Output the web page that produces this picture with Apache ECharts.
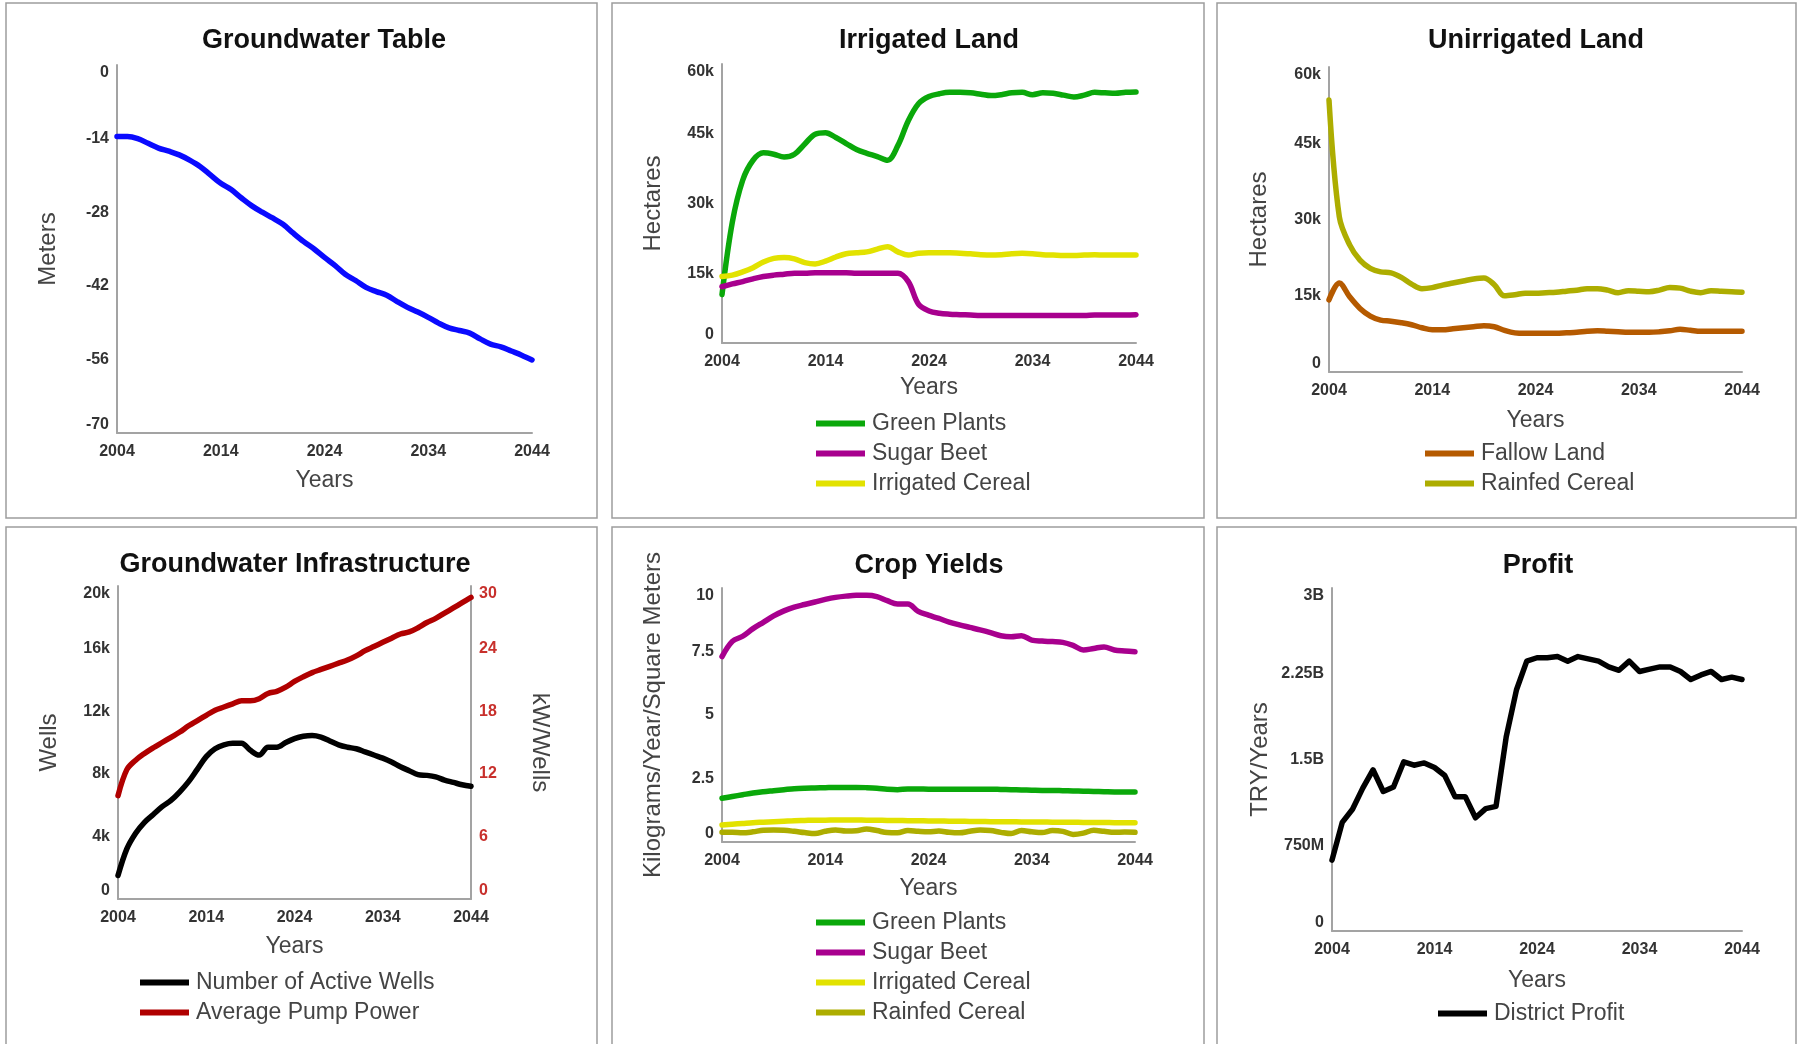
<!DOCTYPE html>
<html>
<head>
<meta charset="utf-8">
<title>Groundwater model results</title>
<script src="https://cdn.jsdelivr.net/npm/echarts@6/dist/echarts.min.js"></script>
<style>
  html, body { margin: 0; padding: 0; background: #fff; }
  #main { width: 1797px; height: 1044px; }
</style>
</head>
<body>
<div id="main"></div>
<script>
// simulation years (x categories)
const years = [2004, 2005, 2006, 2007, 2008, 2009, 2010, 2011, 2012, 2013,
  2014, 2015, 2016, 2017, 2018, 2019, 2020, 2021, 2022, 2023,
  2024, 2025, 2026, 2027, 2028, 2029, 2030, 2031, 2032, 2033,
  2034, 2035, 2036, 2037, 2038, 2039, 2040, 2041, 2042, 2043, 2044];

// Groundwater Table (meters)
const waterTable = [-13.6, -13.6, -14.0, -14.9, -15.8, -16.4, -17.1, -18.1, -19.3, -20.9,
  -22.5, -23.7, -25.3, -26.8, -28.0, -29.1, -30.3, -32.0, -33.6, -35.0,
  -36.6, -38.1, -39.8, -41.0, -42.3, -43.1, -43.8, -45.0, -46.1, -47.0,
  -48.0, -49.1, -50.0, -50.5, -51.0, -52.1, -53.1, -53.6, -54.4, -55.2, -56.1];

// Irrigated Land (thousand hectares)
const irrGreenPlants = [10.4, 26.0, 35.0, 39.3, 40.9, 40.6, 40.0, 40.6, 42.8, 44.9,
  45.2, 44.2, 42.9, 41.6, 40.8, 40.1, 39.3, 42.5, 47.8, 51.5,
  53.0, 53.6, 53.9, 53.9, 53.8, 53.5, 53.2, 53.4, 53.8, 53.9,
  53.4, 53.8, 53.7, 53.3, 52.9, 53.3, 53.9, 53.8, 53.7, 53.9, 54.0];
const irrSugarBeet = [12.1, 12.7, 13.2, 13.8, 14.3, 14.6, 14.8, 15.0, 15.0, 15.1,
  15.1, 15.1, 15.1, 15.0, 15.0, 15.0, 15.0, 15.0, 13.2, 8.3,
  6.9, 6.4, 6.2, 6.1, 6.0, 5.9, 5.9, 5.9, 5.9, 5.9,
  5.9, 5.9, 5.9, 5.9, 5.9, 5.9, 6.0, 6.0, 6.0, 6.0, 6.1];
const irrCereal = [14.3, 14.6, 15.3, 16.2, 17.4, 18.2, 18.4, 18.1, 17.3, 17.0,
  17.6, 18.5, 19.2, 19.4, 19.6, 20.2, 20.7, 19.6, 18.9, 19.3,
  19.4, 19.4, 19.4, 19.3, 19.2, 19.0, 18.9, 19.0, 19.2, 19.3,
  19.2, 19.0, 18.9, 18.8, 18.8, 18.9, 19.0, 18.9, 18.9, 18.9, 18.9];

// Unirrigated Land (thousand hectares)
const fallowLand = [14.2, 17.5, 14.8, 12.5, 11.0, 10.2, 10.0, 9.7, 9.3, 8.7,
  8.3, 8.3, 8.5, 8.7, 8.9, 9.1, 8.9, 8.2, 7.7, 7.6,
  7.6, 7.6, 7.6, 7.7, 7.8, 8.0, 8.1, 8.0, 7.9, 7.8,
  7.8, 7.8, 7.9, 8.1, 8.4, 8.2, 8.0, 8.0, 8.0, 8.0, 8.0];
const rainfedLand = [53.5, 30.5, 25.0, 22.0, 20.4, 19.7, 19.5, 18.6, 17.3, 16.4,
  16.6, 17.1, 17.5, 17.9, 18.3, 18.5, 17.2, 15.0, 15.2, 15.5,
  15.5, 15.6, 15.7, 15.9, 16.1, 16.4, 16.4, 16.1, 15.6, 16.0,
  15.9, 15.8, 16.1, 16.6, 16.5, 15.9, 15.6, 16.0, 15.9, 15.8, 15.7];

// Groundwater Infrastructure
const activeWells = [1.5, 3.2, 4.2, 4.9, 5.4, 5.9, 6.3, 6.85, 7.5, 8.3,
  9.1, 9.6, 9.85, 9.95, 9.95, 9.5, 9.2, 9.7, 9.7, 10.0,
  10.25, 10.4, 10.45, 10.35, 10.1, 9.85, 9.7, 9.6, 9.4, 9.2,
  9.0, 8.75, 8.45, 8.2, 7.95, 7.9, 7.8, 7.6, 7.45, 7.3, 7.2]; // thousand wells
const pumpPower = [9.9, 12.4, 13.3, 13.95, 14.5, 15.0, 15.5, 16.0, 16.6, 17.1,
  17.6, 18.1, 18.4, 18.7, 19.0, 19.0, 19.2, 19.7, 19.9, 20.3,
  20.85, 21.3, 21.7, 22.0, 22.3, 22.6, 22.9, 23.3, 23.8, 24.2,
  24.6, 25.0, 25.4, 25.6, 26.0, 26.5, 26.9, 27.4, 27.9, 28.4, 28.9]; // kW/well

// Crop Yields (kg/year/m2)
const yieldGreenPlants = [1.72, 1.79, 1.86, 1.93, 1.98, 2.02, 2.06, 2.10, 2.12, 2.13,
  2.14, 2.15, 2.15, 2.15, 2.14, 2.12, 2.08, 2.06, 2.09, 2.09,
  2.08, 2.08, 2.08, 2.08, 2.08, 2.08, 2.08, 2.07, 2.06, 2.05,
  2.04, 2.03, 2.03, 2.02, 2.01, 2.00, 1.99, 1.98, 1.97, 1.97, 1.97];
const yieldSugarBeet = [7.3, 7.9, 8.1, 8.4, 8.65, 8.9, 9.1, 9.25, 9.35, 9.45,
  9.55, 9.63, 9.68, 9.71, 9.71, 9.66, 9.5, 9.37, 9.37, 9.08,
  8.93, 8.8, 8.66, 8.55, 8.45, 8.35, 8.24, 8.12, 8.08, 8.12,
  7.95, 7.91, 7.89, 7.86, 7.74, 7.56, 7.62, 7.68, 7.56, 7.52, 7.49];
const yieldIrrCereal = [0.67, 0.70, 0.73, 0.76, 0.78, 0.80, 0.82, 0.84, 0.85, 0.86,
  0.86, 0.87, 0.87, 0.87, 0.86, 0.86, 0.85, 0.85, 0.84, 0.84,
  0.83, 0.83, 0.82, 0.82, 0.81, 0.81, 0.80, 0.80, 0.80, 0.79,
  0.79, 0.79, 0.78, 0.78, 0.78, 0.77, 0.77, 0.77, 0.76, 0.76, 0.76];
const yieldRainfed = [0.38, 0.38, 0.36, 0.40, 0.46, 0.47, 0.46, 0.42, 0.37, 0.33,
  0.42, 0.47, 0.43, 0.44, 0.51, 0.45, 0.37, 0.36, 0.45, 0.42,
  0.40, 0.43, 0.38, 0.36, 0.42, 0.47, 0.45, 0.38, 0.33, 0.45,
  0.40, 0.37, 0.45, 0.42, 0.30, 0.35, 0.46, 0.42, 0.38, 0.39, 0.38];

// Profit (billion TRY/year)
const districtProfit = [0.62, 0.95, 1.065, 1.25, 1.41, 1.22, 1.26, 1.48, 1.45, 1.47,
  1.43, 1.36, 1.175, 1.175, 0.99, 1.07, 1.09, 1.70, 2.11, 2.36,
  2.39, 2.39, 2.40, 2.36, 2.40, 2.38, 2.36, 2.31, 2.28, 2.36,
  2.27, 2.29, 2.31, 2.31, 2.27, 2.20, 2.24, 2.27, 2.20, 2.22, 2.20];

const FONT = '"Liberation Sans", Arial, Helvetica, sans-serif';
const GRAY = '#a3a3a3';
const C = {
  blue: '#0a0aff', green: '#0aa80a', magenta: '#a8008e', yellow: '#e2e200',
  brown: '#b55a00', olive: '#adad00', black: '#000000', red: '#b00000'
};

const kFmt = v => (v === 0 ? '0' : v + 'k');
const profitFmt = v => (v === 0 ? '0' : v < 1 ? Math.round(v * 1000) + 'M' : v + 'B');

const grids = [
  { left: 117, top: 65, width: 415, height: 368 },
  { left: 722, top: 64, width: 414, height: 279 },
  { left: 1329, top: 67, width: 413, height: 305 },
  { left: 118, top: 586, width: 353, height: 313 },
  { left: 722, top: 588, width: 413, height: 254 },
  { left: 1332, top: 588, width: 410, height: 343 }
].map(g => Object.assign({ containLabel: false, outerBoundsMode: 'none' }, g));

function xAxisFor(gridIndex, gap) {
  return {
    type: 'category', gridIndex, data: years, boundaryGap: false,
    name: 'Years', nameLocation: 'middle', nameGap: gap,
    nameTextStyle: { fontSize: 23, color: '#444', fontFamily: FONT },
    axisLine: { show: true, onZero: false, lineStyle: { color: GRAY, width: 2 } },
    axisTick: { show: false },
    axisLabel: { interval: 9, margin: 11, fontSize: 16, fontWeight: 'bold', color: '#333', fontFamily: FONT },
    splitLine: { show: false }
  };
}

function yAxisFor(gridIndex, min, max, interval, name, extra) {
  const ax = {
    type: 'value', gridIndex, min, max, interval,
    name, nameLocation: 'middle', nameGap: 57,
    nameTextStyle: { fontSize: 24, color: '#444', fontFamily: FONT },
    axisLine: { show: true, onZero: false, lineStyle: { color: GRAY, width: 2 } },
    axisTick: { show: false },
    splitLine: { show: false },
    axisLabel: {
      margin: 8, fontSize: 16, fontWeight: 'bold', color: '#333', fontFamily: FONT,
      verticalAlignMinLabel: 'bottom', verticalAlignMaxLabel: 'top'
    }
  };
  if (extra) {
    if (extra.formatter) ax.axisLabel.formatter = extra.formatter;
    if (extra.labelColor) ax.axisLabel.color = extra.labelColor;
    if (extra.position) ax.position = extra.position;
    if (extra.nameRotate !== undefined) ax.nameRotate = extra.nameRotate;
    if (extra.nameGap) ax.nameGap = extra.nameGap;
  }
  return ax;
}

function line(name, data, color, xi, yi, smooth) {
  return {
    type: 'line', name, data, color,
    xAxisIndex: xi, yAxisIndex: yi,
    smooth: smooth === undefined ? 0.35 : smooth,
    showSymbol: false, symbol: 'none',
    lineStyle: { width: 5.5, color, cap: 'round', join: 'round' },
    emphasis: { disabled: true }
  };
}

function titleAt(text, cx, cy) {
  return {
    text, left: cx, top: cy - 11, textAlign: 'center', padding: 0,
    textStyle: { fontSize: 27, fontWeight: 'bold', color: '#111', fontFamily: FONT }
  };
}

function legendAt(names, left, firstCenter) {
  return {
    data: names, orient: 'vertical', left, top: firstCenter - 11, padding: 0,
    icon: 'rect', itemWidth: 49, itemHeight: 6, itemGap: 7,
    selectedMode: false,
    textStyle: { fontSize: 23, color: '#444', fontFamily: FONT, padding: [0, 0, 0, 2] }
  };
}

const panels = [[6, 3, 591, 515], [612, 3, 592, 515], [1217, 3, 579, 515],
  [6, 527, 591, 600], [612, 527, 592, 600], [1217, 527, 579, 600]];

const chart = echarts.init(document.getElementById('main'), null, { renderer: 'canvas' });

const option = {
  backgroundColor: '#fff',
  animation: false,
  textStyle: { fontFamily: FONT },
  graphic: panels.map(p => ({
    type: 'rect', silent: true, z: -10,
    shape: { x: p[0], y: p[1], width: p[2], height: p[3] },
    style: { fill: 'none', stroke: '#9d9d9d', lineWidth: 1.5 }
  })),
  title: [
    titleAt('Groundwater Table', 324, 38),
    titleAt('Irrigated Land', 929, 38),
    titleAt('Unirrigated Land', 1536, 38),
    titleAt('Groundwater Infrastructure', 295, 562),
    titleAt('Crop Yields', 929, 563),
    titleAt('Profit', 1538, 563)
  ],
  legend: [
    legendAt(['Green Plants', 'Sugar Beet', 'Irrigated Cereal'], 816, 423),
    legendAt(['Fallow Land', 'Rainfed Cereal'], 1425, 453),
    legendAt(['Number of Active Wells', 'Average Pump Power'], 140, 982),
    legendAt(['Green Plants ', 'Sugar Beet ', 'Irrigated Cereal ', 'Rainfed Cereal '], 816, 922),
    legendAt(['District Profit'], 1438, 1013)
  ],
  grid: grids,
  xAxis: [
    xAxisFor(0, 36), xAxisFor(1, 33), xAxisFor(2, 37),
    xAxisFor(3, 36), xAxisFor(4, 35), xAxisFor(5, 38)
  ],
  yAxis: [
    yAxisFor(0, -70, 0, 14, 'Meters'),
    yAxisFor(1, 0, 60, 15, 'Hectares', { formatter: kFmt }),
    yAxisFor(2, 0, 60, 15, 'Hectares', { formatter: kFmt, nameGap: 58 }),
    yAxisFor(3, 0, 20, 4, 'Wells', { formatter: kFmt }),
    yAxisFor(3, 0, 30, 6, 'kW/Wells', { position: 'right', labelColor: '#c8302c', nameRotate: -90 }),
    yAxisFor(4, 0, 10, 2.5, 'Kilograms/Year/Square Meters'),
    yAxisFor(5, 0, 3, 0.75, 'TRY/Years', { formatter: profitFmt, nameGap: 60 })
  ],
  series: [
    line('Groundwater Table', waterTable, C.blue, 0, 0),
    line('Green Plants', irrGreenPlants, C.green, 1, 1),
    line('Sugar Beet', irrSugarBeet, C.magenta, 1, 1),
    line('Irrigated Cereal', irrCereal, C.yellow, 1, 1),
    line('Fallow Land', fallowLand, C.brown, 2, 2),
    line('Rainfed Cereal', rainfedLand, C.olive, 2, 2),
    line('Number of Active Wells', activeWells, C.black, 3, 3),
    line('Average Pump Power', pumpPower, C.red, 3, 4),
    line('Green Plants ', yieldGreenPlants, C.green, 4, 5),
    line('Sugar Beet ', yieldSugarBeet, C.magenta, 4, 5),
    line('Irrigated Cereal ', yieldIrrCereal, C.yellow, 4, 5),
    line('Rainfed Cereal ', yieldRainfed, C.olive, 4, 5),
    line('District Profit', districtProfit, C.black, 5, 6, false)
  ]
};

chart.setOption(option);
</script>
</body>
</html>
